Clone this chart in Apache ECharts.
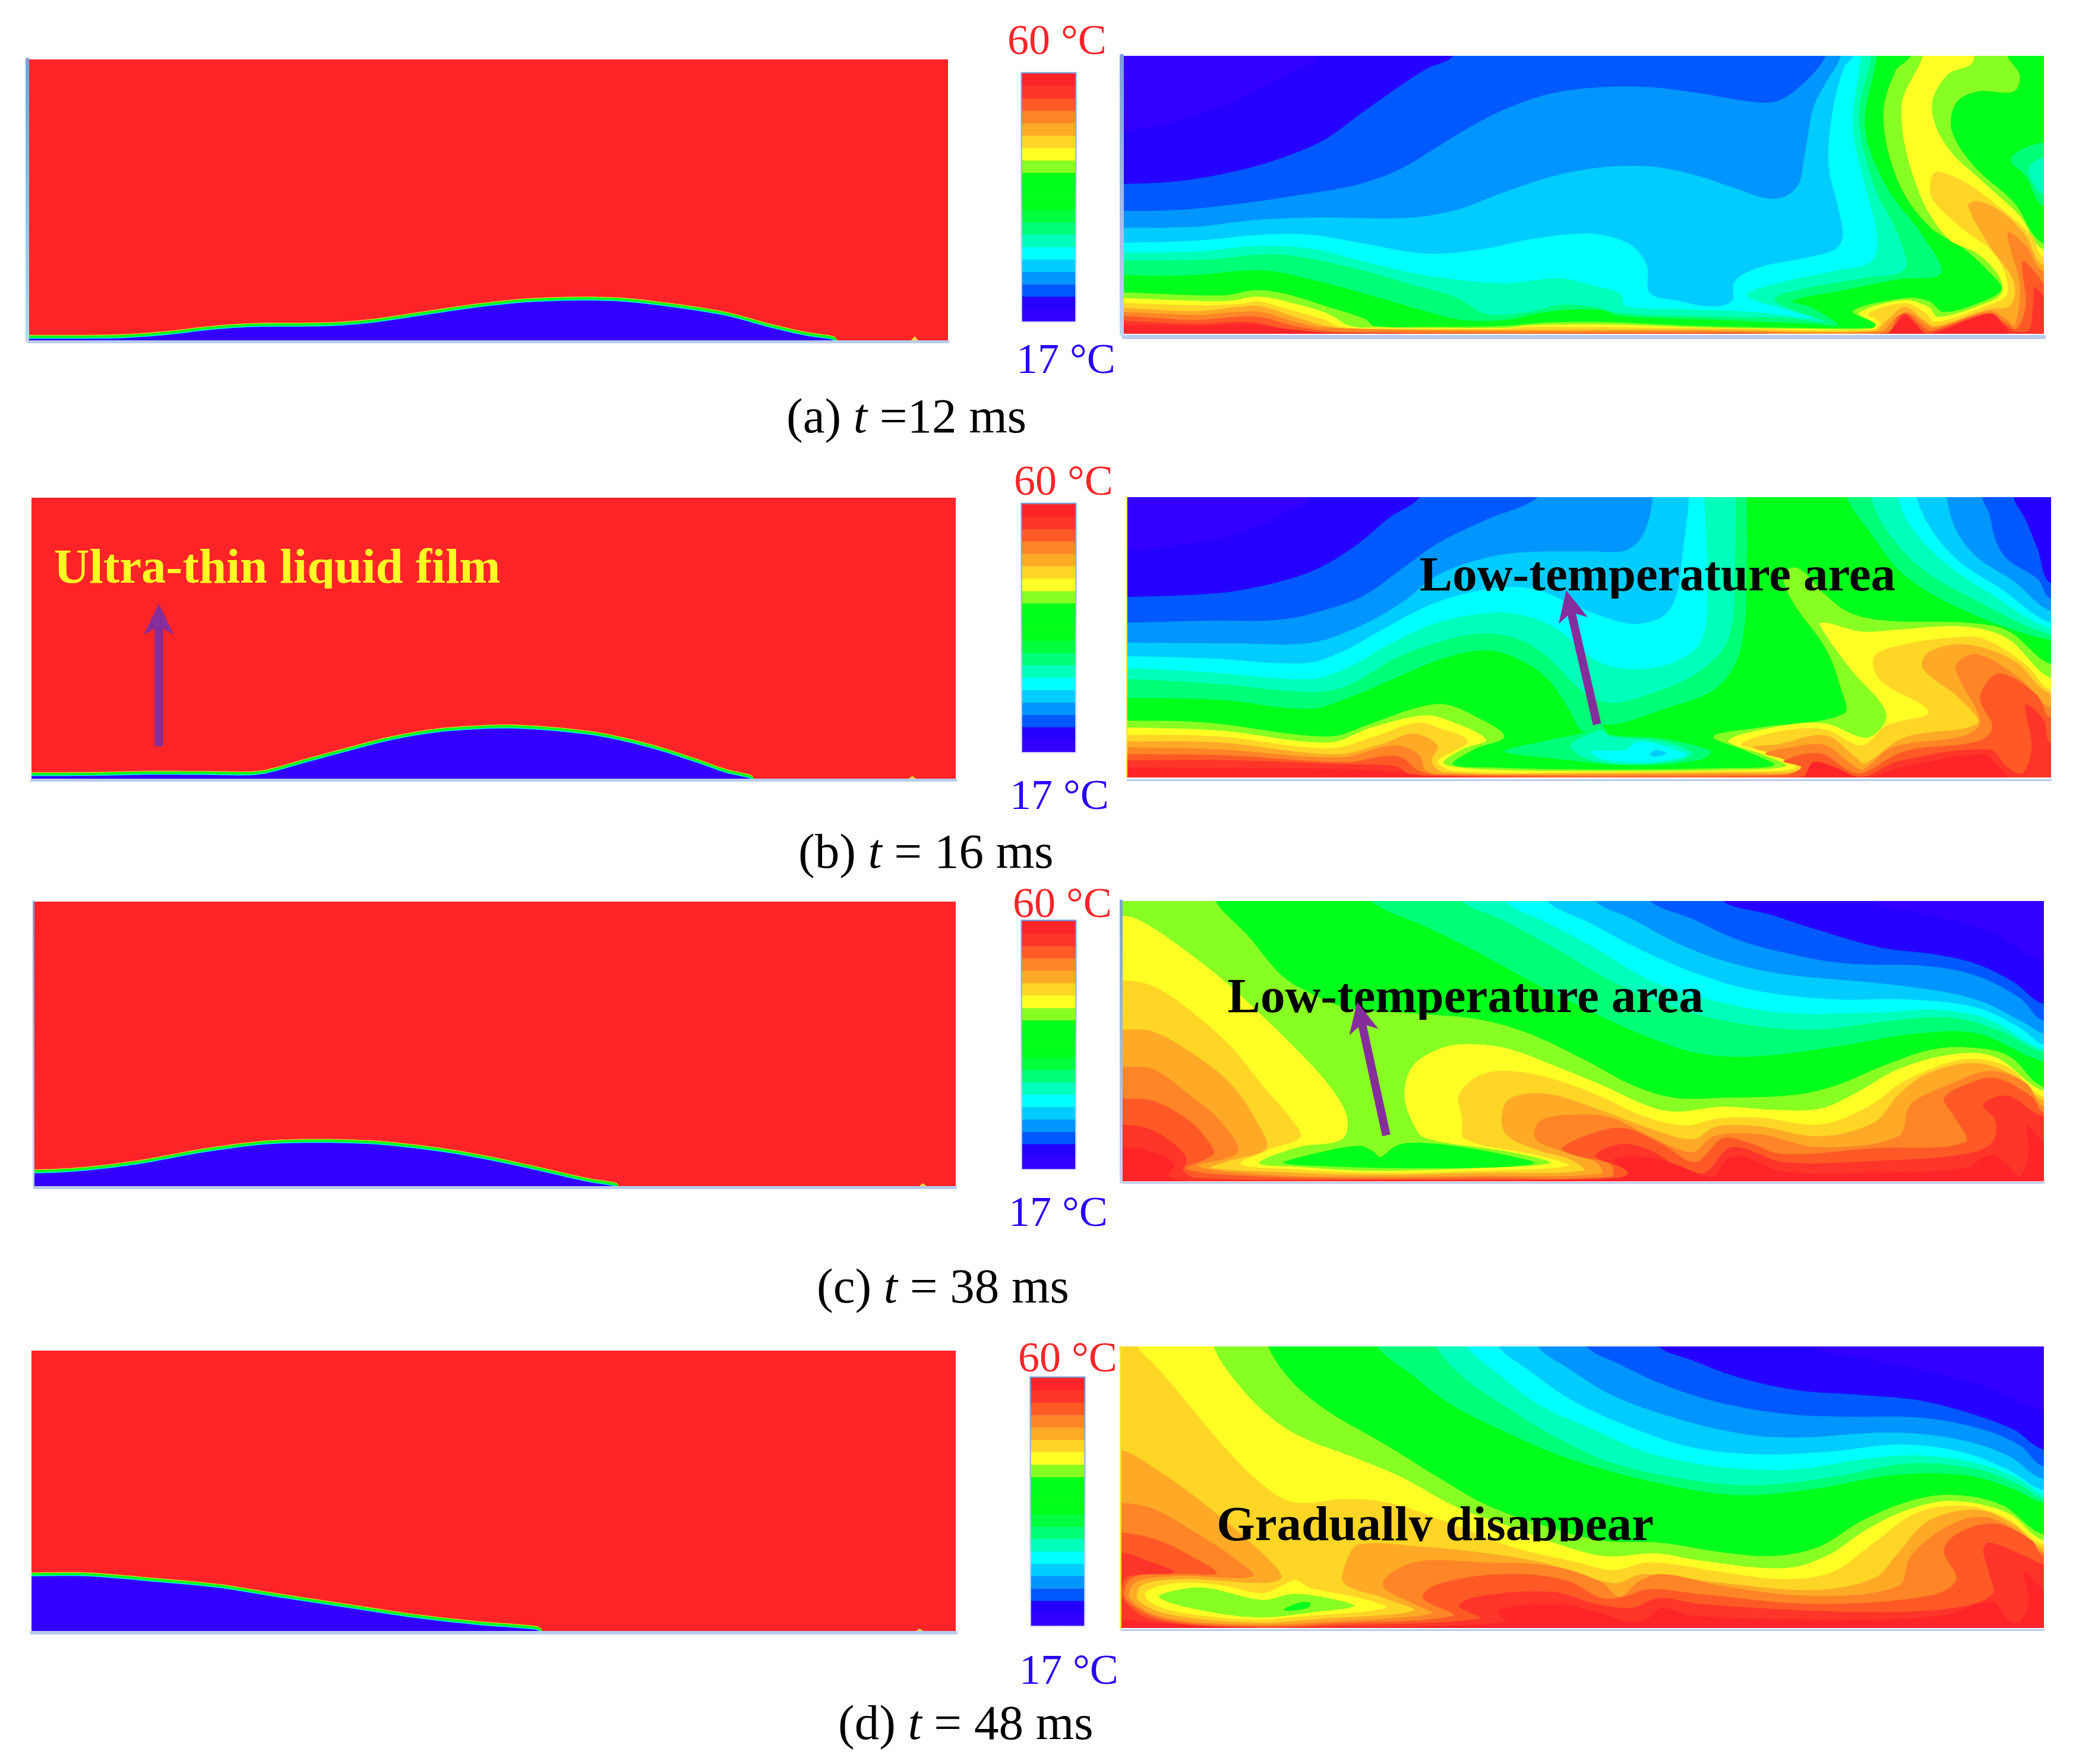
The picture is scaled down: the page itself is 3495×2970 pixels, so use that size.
<!DOCTYPE html>
<html>
<head>
<meta charset="utf-8">
<script src="https://cdn.jsdelivr.net/npm/echarts@6/dist/echarts.min.js"></script>
<style>
  html, body { margin: 0; background: #fff; }
  #chart { width: 3495px; height: 2970px; }
</style>
</head>
<body>
<div id="chart"></div>
<script>
// colour bar, 17 to 60 C
const levelTemps = [18.1, 20.2, 22.4, 24.5, 26.7, 28.8, 31, 33.1, 35.3, 37.4, 39.6, 41.7, 43.9, 46, 48.2, 50.3, 52.5, 54.6, 56.8, 58.9]
const levelColors = ['#3300ff', '#2600ff', '#0059ff', '#0095ff', '#00ccff', '#00ffff', '#00ffbb', '#00ff77', '#00ff3c', '#00ff1a', '#00ff1a', '#00ff1a', '#88ff22', '#ffff26', '#ffd626', '#ffaa26', '#ff8526', '#ff5a26', '#ff3529', '#ff2428']
const contourColors = ['#3300ff', '#2600ff', '#0059ff', '#0095ff', '#00ccff', '#00ffff', '#00ffbb', '#00ff77', '#00ff1a', '#88ff22', '#ffff26', '#ffd626', '#ffaa26', '#ff8526', '#ff5a26', '#ff3529', '#ff2428']

// points outside the plots, used to close a contour region
const TL = [-80, -80], TR = [1640, -80], BR = [1640, 1560], BL = [-80, 1560]

// interface of the drop, left column
const filmA = [[28,378],[170,376],[250,360],[330,332],[400,318],[520,314],[590,298],[680,258],[760,222],[850,193],[930,184],[1010,190],[1100,222],[1180,262],[1250,320],[1310,362],[1350,380],[1360,393]]
const filmB = [[22,312],[130,310],[220,305],[300,306],[370,308],[400,298],[450,255],[520,195],[600,130],[680,88],[780,70],[860,82],[940,112],[1020,170],[1090,240],[1140,295],[1175,320],[1183,332]]
const filmC = [[26,250],[110,236],[200,200],[300,143],[400,103],[490,95],[580,104],[680,140],[770,190],[850,245],[920,295],[955,312],[965,322]]
const filmD = [[22,68],[110,68],[200,90],[320,125],[420,175],[530,228],[640,280],[740,315],[830,338],[842,353]]
const spikeA = [[1484,393],[1490,372],[1496,393]]
const spikeB = [[1434,332],[1440,318],[1446,332]]
const spikeC = [[1451,322],[1457,307],[1463,322]]
const spikeD = [[1446,353],[1452,340],[1458,353]]

// panel (a) contours
const a1 = [[330,-80],[330,42],[290,120],[240,200],[170,300],[90,380],[12,420],[-80,425],BL,BR,TR]
const a2 = [[555,-80],[555,42],[510,110],[460,210],[400,340],[340,470],[260,570],[180,635],[100,675],[12,688],[-80,690],BL,BR,TR]
const a3 = [[-80,825],[12,825],[100,820],[200,790],[300,745],[400,690],[470,610],[530,500],[590,390],[650,300],[720,230],[800,200],[880,200],[960,230],[1050,275],[1090,270],[1130,190],[1170,42],[1170,-80],TR,BR,BL]
const a4 = [[-80,910],[12,910],[130,905],[230,870],[330,858],[480,860],[560,820],[640,730],[720,650],[800,605],[880,600],[950,640],[1020,710],[1070,760],[1100,755],[1125,690],[1135,550],[1150,300],[1170,180],[1195,42],[1195,-80],TR,BR,BL]
const a5 = [[-80,985],[12,985],[130,975],[240,945],[320,945],[400,985],[510,1040],[600,1020],[680,970],[750,942],[800,945],[850,1000],[875,1100],[880,1240],[930,1280],[980,1307],[1015,1280],[1020,1180],[1060,1110],[1130,1065],[1185,1020],[1198,950],[1190,800],[1175,600],[1180,350],[1200,100],[1215,42],[1215,-80],TR,BR,BL]
const a6 = [[-80,1035],[12,1035],[130,1030],[230,1003],[320,1015],[420,1090],[510,1150],[640,1190],[730,1165],[790,1205],[830,1240],[840,1305],[930,1320],[1050,1335],[1150,1365],[1100,1320],[1040,1250],[1090,1190],[1180,1130],[1245,1080],[1255,950],[1235,700],[1215,400],[1228,42],[1228,-80],TR,BR,BL]
const a7 = [[-80,1075],[12,1075],[150,1070],[240,1045],[300,1055],[400,1120],[480,1190],[560,1260],[610,1345],[680,1335],[730,1300],[790,1310],[830,1340],[950,1355],[1100,1365],[1170,1385],[1130,1340],[1085,1270],[1130,1220],[1230,1165],[1300,1120],[1290,950],[1250,700],[1225,350],[1245,42],[1245,-80],TR,BR,BL]
const a8 = [[-80,1150],[12,1150],[120,1150],[240,1125],[320,1170],[430,1260],[520,1340],[570,1375],[640,1375],[720,1330],[800,1325],[830,1355],[1000,1375],[1150,1395],[1190,1400],[1145,1310],[1115,1280],[1200,1225],[1290,1170],[1360,1140],[1330,950],[1270,700],[1235,400],[1255,42],[1255,-80],TR,BR,BL]
const a9 = [[-80,1237],[12,1237],[100,1247],[180,1250],[230,1225],[280,1245],[350,1310],[410,1370],[425,1405],[520,1410],[640,1405],[710,1388],[800,1385],[960,1405],[1130,1415],[1245,1415],[1255,1400],[1215,1330],[1300,1265],[1340,1280],[1365,1335],[1430,1280],[1460,1220],[1445,1150],[1400,1020],[1340,900],[1290,680],[1265,350],[1285,120],[1310,42],[1310,-80],[1470,-80],[1470,42],[1490,140],[1480,222],[1420,222],[1385,280],[1378,420],[1415,600],[1480,780],[1530,990],[1640,1000],BR,BL]
const a10 = [[-80,1265],[12,1265],[100,1275],[180,1280],[235,1258],[290,1290],[350,1345],[385,1405],[430,1413],[640,1415],[680,1402],[810,1398],[950,1412],[1130,1420],[1245,1420],[1252,1395],[1225,1340],[1300,1275],[1340,1310],[1355,1360],[1430,1295],[1460,1240],[1455,1150],[1420,1040],[1370,960],[1320,700],[1295,300],[1330,42],[1330,-80],[1415,-80],[1415,42],[1410,85],[1370,140],[1345,300],[1370,500],[1430,680],[1490,850],[1530,1020],[1640,1030],BR,BL]
const a11 = [[-80,1290],[12,1290],[120,1300],[200,1295],[235,1282],[280,1320],[340,1370],[370,1410],[430,1418],[640,1420],[680,1410],[1000,1418],[1245,1425],[1260,1390],[1240,1345],[1300,1290],[1335,1340],[1350,1385],[1430,1310],[1470,1240],[1450,1050],[1390,900],[1345,760],[1345,650],[1355,625],[1400,680],[1450,790],[1510,950],[1530,1060],[1640,1070],BR,BL]
const a12 = [[-80,1315],[12,1315],[130,1330],[200,1310],[235,1305],[290,1355],[345,1405],[400,1422],[640,1425],[1000,1425],[1250,1430],[1270,1380],[1300,1310],[1330,1370],[1350,1405],[1440,1320],[1475,1300],[1480,1180],[1440,1000],[1405,800],[1420,775],[1460,830],[1500,950],[1530,1100],[1640,1100],BR,BL]
const a13 = [[-80,1335],[12,1335],[130,1350],[200,1335],[240,1335],[290,1380],[340,1412],[620,1430],[1000,1432],[1260,1432],[1285,1365],[1305,1335],[1335,1395],[1350,1415],[1440,1330],[1470,1375],[1482,1405],[1490,1200],[1470,935],[1500,1000],[1530,1130],[1640,1140],BR,BL]
const a14 = [[-80,1355],[12,1355],[130,1375],[230,1358],[300,1410],[380,1437],[1000,1440],[1270,1438],[1290,1355],[1305,1345],[1335,1420],[1345,1430],[1440,1340],[1465,1385],[1485,1420],[1500,1300],[1495,1080],[1520,1150],[1530,1190],[1640,1200],BR,BL]
const a15 = [[-80,1380],[12,1380],[130,1395],[220,1385],[270,1415],[360,1440],[1000,1443],[1270,1442],[1300,1345],[1325,1420],[1340,1442],[1440,1345],[1465,1400],[1480,1432],[1505,1425],[1512,1300],[1515,1210],[1530,1250],[1640,1260],BR,BL]
const a16 = [[-80,1400],[12,1400],[130,1405],[230,1400],[300,1430],[400,1447],[1270,1447],[1285,1400],[1300,1360],[1320,1400],[1335,1447],[1365,1430],[1410,1370],[1445,1345],[1462,1400],[1472,1447],[1472,1560],BL]
const aPocket7 = [[1640,470],[1530,480],[1490,520],[1475,570],[1500,650],[1530,800],[1640,810]]
const aPocket6 = [[1640,540],[1530,555],[1505,610],[1515,700],[1530,740],[1640,750]]
const panelABands = [[1,a1],[2,a2],[3,a3],[4,a4],[5,a5],[6,a6],[7,a7],[8,a8],[7,aPocket7],[6,aPocket6],[9,a9],[10,a10],[11,a11],[12,a12],[13,a13],[14,a14],[15,a15],[16,a16]]

// panel (b) contours
const b1 = [[320,-80],[320,36],[280,110],[210,210],[120,270],[18,305],[-80,310],BL,BR,TR]
const b2 = [[-80,540],[18,540],[170,520],[260,470],[330,400],[395,280],[450,140],[500,36],[500,-80],[1480,-80],[1480,36],[1500,150],[1520,300],[1542,470],[1640,480],BR,BL]
const b3 = [[-80,670],[18,670],[150,660],[270,655],[350,600],[410,530],[470,400],[530,270],[610,150],[695,36],[695,-80],[1428,-80],[1428,36],[1440,120],[1450,250],[1470,350],[1520,450],[1542,550],[1640,560],BR,BL]
const b4 = [[-80,770],[18,770],[200,775],[320,772],[400,690],[470,570],[530,430],[600,350],[670,315],[780,310],[840,305],[870,220],[885,36],[885,-80],[1370,-80],[1370,36],[1385,200],[1420,340],[1480,460],[1542,610],[1640,620],BR,BL]
const b5 = [[-80,840],[18,840],[150,850],[310,875],[370,820],[430,720],[510,590],[580,520],[650,490],[700,510],[760,590],[830,665],[865,675],[905,630],[925,520],[935,300],[945,36],[945,-80],[1320,-80],[1320,36],[1345,200],[1390,360],[1460,500],[1542,670],[1640,680],BR,BL]
const b6 = [[-80,900],[18,900],[150,920],[320,955],[380,900],[450,780],[530,670],[620,620],[680,640],[730,710],[790,860],[850,905],[920,870],[965,760],[975,500],[970,36],[970,-80],[1290,-80],[1290,36],[1310,180],[1360,350],[1440,520],[1542,700],[1640,710],BR,BL]
const b7 = [[-80,955],[18,955],[170,980],[320,1020],[380,990],[460,850],[530,770],[600,725],[660,750],[710,840],[770,1020],[815,1075],[880,1030],[960,920],[1010,750],[1020,400],[1022,36],[1022,-80],[1245,-80],[1245,36],[1270,200],[1330,400],[1420,560],[1542,730],[1640,740],BR,BL]
const b8 = [[-80,1050],[18,1050],[170,1060],[320,1105],[390,1040],[460,950],[540,850],[610,810],[660,850],[710,950],[745,1100],[770,1220],[800,1190],[830,1180],[900,1110],[990,1000],[1030,800],[1040,400],[1040,36],[1040,-80],[1205,-80],[1205,36],[1240,200],[1300,430],[1400,610],[1542,760],[1640,770],BR,BL]
const b9 = [[-80,1165],[18,1165],[150,1175],[350,1245],[420,1180],[490,1105],[540,1082],[590,1140],[640,1245],[590,1310],[555,1385],[620,1402],[800,1412],[1000,1405],[1085,1390],[1040,1320],[985,1245],[1060,1200],[1200,1130],[1195,1000],[1170,800],[1115,560],[1100,420],[1125,395],[1170,530],[1210,620],[1270,660],[1400,670],[1470,710],[1542,880],[1640,890],BR,BL]
const b10 = [[-80,1200],[18,1200],[170,1215],[350,1275],[420,1200],[500,1140],[535,1150],[610,1260],[570,1310],[540,1380],[600,1410],[800,1420],[1000,1415],[1105,1395],[1070,1340],[1010,1265],[1100,1190],[1170,1180],[1240,1250],[1270,1130],[1210,900],[1160,680],[1170,670],[1230,715],[1290,705],[1400,690],[1470,750],[1542,950],[1640,960],BR,BL]
const b11 = [[-80,1235],[18,1235],[170,1245],[350,1305],[420,1250],[495,1175],[530,1200],[580,1270],[530,1370],[560,1420],[800,1425],[1000,1420],[1120,1405],[1085,1330],[1030,1285],[1100,1215],[1170,1210],[1230,1290],[1270,1190],[1340,1120],[1260,960],[1250,840],[1300,780],[1380,745],[1430,750],[1500,880],[1542,1010],[1640,1020],BR,BL]
const b12 = [[-80,1270],[18,1270],[170,1275],[360,1335],[440,1280],[490,1230],[530,1290],[520,1370],[540,1425],[780,1432],[850,1430],[1000,1428],[1135,1415],[1100,1350],[1050,1300],[1090,1285],[1170,1240],[1220,1350],[1235,1380],[1300,1250],[1420,1180],[1390,1050],[1330,900],[1340,820],[1400,780],[1480,860],[1542,1030],[1640,1040],BR,BL]
const b13 = [[-80,1300],[18,1300],[170,1310],[370,1350],[460,1290],[500,1340],[510,1415],[540,1435],[1000,1435],[1145,1425],[1100,1360],[1070,1330],[1120,1295],[1170,1290],[1215,1390],[1232,1410],[1280,1300],[1400,1240],[1425,1170],[1390,950],[1385,880],[1420,830],[1490,950],[1542,1100],[1640,1110],BR,BL]
const b14 = [[-80,1335],[18,1335],[180,1340],[380,1375],[440,1345],[470,1350],[500,1420],[540,1440],[1100,1440],[1130,1400],[1100,1370],[1160,1330],[1210,1420],[1232,1430],[1300,1320],[1420,1270],[1445,1200],[1425,1050],[1450,930],[1480,950],[1520,1040],[1542,1150],[1640,1160],BR,BL]
const b15 = [[-80,1365],[18,1365],[180,1365],[380,1385],[460,1395],[490,1440],[1130,1448],[1150,1375],[1170,1390],[1230,1448],[1290,1370],[1440,1310],[1470,1400],[1495,1430],[1510,1300],[1500,1085],[1530,1160],[1542,1280],[1640,1290],BR,BL]
const b16 = [[-80,1400],[18,1400],[180,1405],[380,1410],[460,1425],[520,1445],[800,1452],[1130,1452],[1150,1375],[1185,1400],[1230,1452],[1310,1390],[1430,1335],[1450,1380],[1470,1452],[1470,1560],BL]
const bPocket7 = [[800,1190],[815,1235],[900,1255],[980,1320],[960,1365],[850,1390],[720,1355],[640,1320],[710,1265],[780,1220]]
const bPocket6 = [[800,1215],[815,1245],[900,1270],[950,1330],[920,1370],[830,1385],[770,1350],[750,1290],[775,1240]]
const bPocket5 = [[860,1270],[900,1290],[940,1340],[870,1375],[800,1360],[785,1320],[840,1310]]
const bPocket4 = [[890,1315],[907,1330],[890,1348],[880,1335]]
const panelBBands = [[1,b1],[2,b2],[3,b3],[4,b4],[5,b5],[6,b6],[7,b7],[8,b8],[9,b9],[10,b10],[11,b11],[12,b12],[13,b13],[14,b14],[15,b15],[16,b16],[7,bPocket7],[6,bPocket6],[5,bPocket5],[4,bPocket4]]

// panel (c) contours
const c1 = [[1245,-80],[1245,20],[1340,90],[1440,170],[1530,320],[1640,330],BR,BL,TL]
const c2 = [[1000,-80],[1000,20],[1080,90],[1150,160],[1260,255],[1350,290],[1420,340],[1480,430],[1530,540],[1640,550],BR,BL,TL]
const c3 = [[880,-80],[880,20],[950,110],[1020,210],[1100,280],[1200,335],[1340,350],[1420,400],[1490,510],[1530,625],[1640,630],BR,BL,TL]
const c4 = [[790,-80],[790,20],[850,110],[930,240],[1010,330],[1100,390],[1300,450],[1420,520],[1500,640],[1530,690],[1640,700],BR,BL,TL]
const c5 = [[710,-80],[710,20],[780,130],[860,260],[960,390],[1050,470],[1170,515],[1320,520],[1420,560],[1490,660],[1530,745],[1640,750],BR,BL,TL]
const c6 = [[640,-80],[640,20],[710,130],[790,260],[880,420],[980,520],[1100,585],[1250,585],[1350,570],[1440,620],[1530,770],[1640,780],BR,BL,TL]
const c7 = [[570,-80],[570,20],[640,120],[730,270],[820,430],[920,560],[1030,640],[1150,670],[1280,625],[1380,610],[1460,680],[1530,785],[1640,790],BR,BL,TL]
const c8 = [[420,-80],[420,20],[510,150],[590,270],[680,420],[770,560],[870,700],[960,790],[1060,805],[1200,750],[1320,690],[1420,690],[1530,830],[1640,840],BR,BL,TL]
const c9 = [[163,-80],[163,20],[215,190],[270,390],[310,470],[380,560],[500,590],[600,620],[680,690],[770,820],[850,950],[920,1015],[1000,1015],[1120,1000],[1190,950],[1260,860],[1340,775],[1400,760],[1470,800],[1530,960],[1640,970],BR,BL,TL]
const c10 = [[-80,95],[10,95],[40,120],[100,240],[180,430],[240,600],[300,780],[350,950],[380,1110],[372,1225],[300,1265],[235,1345],[300,1365],[430,1385],[600,1370],[715,1345],[650,1290],[510,1220],[490,1150],[475,1000],[490,850],[540,760],[590,745],[650,770],[720,850],[800,950],[880,1060],[925,1085],[1000,1060],[1080,1075],[1160,1070],[1220,990],[1290,870],[1380,795],[1450,810],[1530,980],[1640,990],BR,BL]
const c11 = [[-80,420],[10,420],[60,450],[120,570],[190,760],[240,950],[290,1130],[303,1215],[250,1280],[205,1350],[300,1378],[430,1395],[600,1385],[745,1360],[700,1310],[575,1225],[570,1120],[565,1000],[600,900],[650,880],[720,920],[800,1010],[870,1110],[940,1155],[990,1120],[1060,1115],[1160,1150],[1240,1060],[1300,930],[1400,820],[1470,860],[1530,1010],[1640,1020],BR,BL]
const c12 = [[-80,670],[10,670],[60,680],[130,800],[190,950],[230,1130],[247,1270],[180,1340],[155,1370],[300,1395],[430,1405],[600,1395],[770,1385],[750,1330],[690,1275],[640,1190],[640,1050],[665,1000],[720,1000],[800,1080],[880,1170],[950,1225],[990,1160],[1060,1160],[1160,1210],[1250,1140],[1290,1000],[1340,890],[1420,840],[1490,920],[1530,1030],[1640,1040],BR,BL]
const c13 = [[-80,860],[10,860],[60,870],[120,1000],[170,1130],[200,1290],[135,1360],[250,1405],[430,1415],[600,1410],[800,1400],[790,1340],[730,1280],[690,1220],[700,1130],[760,1100],[820,1120],[880,1210],[950,1290],[985,1210],[1060,1200],[1160,1265],[1290,1210],[1310,1050],[1380,940],[1440,880],[1500,940],[1530,1060],[1640,1070],BR,BL]
const c14 = [[-80,1020],[10,1020],[60,1030],[120,1130],[150,1230],[160,1300],[115,1375],[250,1415],[430,1425],[600,1420],[815,1415],[815,1350],[760,1310],[735,1270],[790,1190],[840,1170],[900,1250],[955,1340],[1000,1220],[1040,1240],[1100,1300],[1250,1270],[1400,1240],[1380,1100],[1365,1020],[1400,950],[1450,915],[1510,1010],[1530,1090],[1640,1100],BR,BL]
const c15 = [[-80,1150],[10,1150],[60,1180],[110,1290],[115,1340],[110,1380],[130,1420],[430,1430],[830,1420],[845,1385],[790,1310],[830,1250],[880,1280],[930,1370],[970,1395],[1015,1265],[1100,1340],[1250,1335],[1400,1300],[1445,1240],[1450,1130],[1430,1050],[1470,1005],[1530,1110],[1640,1120],BR,BL]
const c16 = [[-80,1265],[10,1265],[60,1290],[95,1350],[85,1410],[120,1438],[420,1435],[800,1430],[845,1400],[820,1330],[860,1315],[910,1340],[970,1410],[985,1415],[1010,1320],[1040,1320],[1100,1390],[1250,1395],[1400,1370],[1440,1305],[1465,1340],[1490,1412],[1505,1300],[1503,1160],[1530,1230],[1640,1240],BR,BL]
const cPocket8 = [[275,1345],[310,1310],[400,1258],[425,1290],[435,1315],[460,1260],[490,1243],[560,1260],[650,1310],[690,1345],[640,1365],[500,1372],[350,1362]]
const panelCBands = [[1,c1],[2,c2],[3,c3],[4,c4],[5,c5],[6,c6],[7,c7],[8,c8],[9,c9],[10,c10],[11,c11],[12,c12],[13,c13],[14,c14],[15,c15],[16,c16],[8,cPocket8]]

// panel (d) contours
const d1 = [[1145,-80],[1145,20],[1240,80],[1350,150],[1450,240],[1530,345],[1640,350],BR,BL,TL]
const d2 = [[895,-80],[895,20],[950,90],[1020,170],[1120,240],[1230,265],[1320,290],[1400,350],[1480,440],[1530,540],[1640,550],BR,BL,TL]
const d3 = [[775,-80],[775,20],[830,110],[900,210],[990,300],[1100,360],[1200,375],[1330,380],[1430,440],[1490,520],[1530,625],[1640,630],BR,BL,TL]
const d4 = [[695,-80],[695,20],[745,130],[820,270],[920,380],[1030,460],[1120,480],[1280,455],[1390,490],[1470,570],[1530,690],[1640,700],BR,BL,TL]
const d5 = [[630,-80],[630,20],[680,140],[750,290],[850,430],[950,530],[1060,565],[1180,550],[1290,515],[1390,550],[1470,640],[1530,745],[1640,750],BR,BL,TL]
const d6 = [[578,-80],[578,20],[630,160],[700,320],[780,430],[880,560],[1000,630],[1120,640],[1230,590],[1320,570],[1420,610],[1490,690],[1530,770],[1640,780],BR,BL,TL]
const d7 = [[528,-80],[528,20],[570,170],[640,320],[720,470],[820,610],[960,700],[1060,720],[1180,680],[1310,610],[1420,640],[1490,720],[1530,790],[1640,800],BR,BL,TL]
const d8 = [[430,-80],[430,20],[490,170],[550,310],[640,450],[740,580],[880,700],[1020,770],[1150,740],[1280,670],[1400,670],[1480,740],[1530,810],[1640,820],BR,BL,TL]
const d9 = [[250,-80],[250,20],[290,200],[350,350],[440,510],[530,680],[610,820],[700,920],[800,1000],[900,1012],[1000,1060],[1085,1078],[1160,1030],[1230,900],[1310,800],[1380,770],[1460,820],[1530,970],[1640,980],BR,BL,TL]
const d10 = [[160,-80],[160,20],[190,170],[240,340],[300,470],[400,590],[470,680],[560,830],[640,920],[750,1040],[810,1080],[890,1065],[960,1100],[1100,1140],[1170,1080],[1240,940],[1310,840],[1380,800],[1470,860],[1530,1000],[1640,1010],BR,BL,TL]
const d11 = [[35,-80],[35,20],[65,120],[110,280],[170,500],[230,690],[290,805],[380,790],[450,810],[540,900],[650,1030],[760,1110],[820,1150],[880,1110],[1000,1160],[1100,1195],[1180,1160],[1250,1010],[1320,860],[1400,825],[1470,890],[1530,1020],[1640,1030],BR,BL,TL]
const d12 = [[-80,545],[8,545],[60,630],[130,780],[210,980],[262,1130],[272,1190],[240,1215],[110,1195],[42,1225],[35,1300],[90,1375],[230,1415],[340,1395],[490,1355],[440,1290],[375,1215],[380,1100],[400,1020],[500,1030],[600,1060],[700,1110],[820,1215],[870,1170],[1000,1215],[1150,1250],[1250,1190],[1290,1060],[1340,900],[1420,845],[1480,920],[1530,1040],[1640,1050],BR,BL]
const d13 = [[-80,810],[8,810],[60,840],[130,960],[190,1080],[225,1180],[100,1180],[32,1210],[22,1295],[80,1390],[230,1425],[350,1410],[520,1370],[490,1320],[440,1235],[450,1170],[500,1105],[600,1110],[720,1130],[800,1210],[830,1285],[860,1210],[900,1170],[1000,1230],[1150,1280],[1290,1230],[1310,1080],[1370,930],[1430,880],[1490,960],[1530,1060],[1640,1070],BR,BL]
const d14 = [[-80,960],[8,960],[70,1000],[130,1090],[165,1165],[100,1170],[25,1190],[15,1295],[80,1400],[230,1432],[350,1420],[555,1380],[505,1290],[530,1220],[640,1170],[740,1200],[800,1290],[835,1285],[880,1245],[960,1270],[1150,1320],[1340,1280],[1385,1200],[1365,1050],[1390,960],[1450,915],[1510,1000],[1530,1080],[1640,1090],BR,BL]
const d15 = [[-80,1060],[8,1060],[50,1100],[95,1160],[30,1175],[12,1200],[12,1300],[60,1400],[230,1440],[350,1430],[600,1395],[565,1330],[600,1280],[720,1260],[790,1320],[850,1340],[895,1290],[960,1320],[1150,1355],[1300,1360],[1400,1330],[1445,1270],[1440,1170],[1430,1050],[1440,1010],[1500,1080],[1530,1120],[1640,1120],BR,BL]
const d16 = [[-80,1400],[8,1400],[60,1415],[230,1442],[640,1415],[630,1350],[740,1325],[800,1370],[855,1415],[880,1385],[900,1340],[950,1380],[1150,1400],[1350,1385],[1445,1310],[1470,1400],[1490,1412],[1505,1300],[1498,1160],[1530,1240],[1640,1250],BR,BL]
const dPocket10 = [[48,1260],[100,1215],[170,1225],[240,1265],[275,1225],[295,1200],[320,1240],[400,1290],[445,1340],[300,1385],[220,1400],[100,1360],[55,1310]]
const dPocket9 = [[70,1285],[100,1250],[150,1240],[240,1300],[290,1270],[340,1285],[392,1330],[330,1360],[230,1388],[120,1340]]
const dPocket8 = [[275,1350],[300,1315],[320,1315],[315,1340],[285,1355]]
const panelDBands = [[1,d1],[2,d2],[3,d3],[4,d4],[5,d5],[6,d6],[7,d7],[8,d8],[9,d9],[10,d10],[11,d11],[12,d12],[13,d13],[14,d14],[15,d15],[16,d16],[10,dPocket10],[9,dPocket9],[8,dPocket8]]

const serif = '"Liberation Serif", "Times New Roman", serif'
const purple = '#862d9c'
const wallBlue = '#b8cbec'
const edgeBlue = new echarts.graphic.LinearGradient(0, 0, 0, 1, [{ offset: 0, color: '#7d9fdd' }, { offset: 1, color: '#c3d3f0' }])
const barEdge = new echarts.graphic.LinearGradient(0, 0, 0, 1, [{ offset: 0, color: '#6f9bd8' }, { offset: 1, color: '#dfe8f5' }])

// drop panels: grid box, x range, y range, interface, spike, wall and edge strip widths
const leftPanels = [
  { box: [49, 100, 1547, 473], x: [28, 1545], y: [-1032, 393], film: filmA, spike: spikeA, wall: 5, edge: 6 },
  { box: [53, 838, 1556, 473], x: [22, 1510], y: [-1093, 332], film: filmB, spike: spikeB, wall: 5, edge: 0 },
  { box: [58, 1518, 1551, 479], x: [26, 1510], y: [-1121, 322], film: filmC, spike: spikeC, wall: 5, edge: 3 },
  { box: [53, 2274, 1556, 472], x: [22, 1510], y: [-1072, 353], film: filmD, spike: spikeD, wall: 6, edge: 0 }
]
const rightPanels = [
  { box: [1892, 94, 1549, 468], x: [12, 1530], y: [42, 1445], bands: panelABands, edgeColor: edgeBlue, wall: 7, wallGap: 2, edge: 7 },
  { box: [1898, 837, 1555, 472], x: [18, 1542], y: [36, 1452], bands: panelBBands, edgeColor: '#f2e83a', wall: 3, wallGap: 3, edge: 2 },
  { box: [1890, 1517, 1551, 472], x: [10, 1530], y: [20, 1438], bands: panelCBands, edgeColor: edgeBlue, wall: 3, wallGap: 1, edge: 5 },
  { box: [1888, 2267, 1553, 474], x: [8, 1530], y: [20, 1442], bands: panelDBands, edgeColor: '#f2e83a', wall: 3, wallGap: 2, edge: 3 }
]
const barBoxes = [[1721, 124, 89, 417], [1721, 849, 89, 417], [1721, 1551, 89, 417], [1736, 2320, 89, 417]]

// outer halo to core of the interface, shift in pixels
const filmLayers = [
  { dy: -4.5, color: '#ff8a30' },
  { dy: -3.5, color: '#e0f020' },
  { dy: -3, color: '#00ff1a' },
  { dy: 1, color: '#00e6ff' },
  { dy: 2.5, color: '#3300ff' }
]

// [grid, text, x, y, colour, kept part below the baseline]
const notes = [
  [1, 'Ultra-thin liquid film', 58, -654, '#ffff26', 7],
  [5, 'Low-temperature area', 500, 515, '#000', 11],
  [6, 'Low-temperature area', 183, 588, '#000', 11],
  [7, 'Gradually disappear', 165, 1005, '#000', 0]
]
// [grid, tail, tip]
const arrows = [
  [1, [227, 168], [227, -555]],
  [5, [793, 1183], [742, 507]],
  [6, [445, 1205], [397, 530]]
]
// [text, left, top]
const captions = [
  ['(a) {i|t} =12 ms', 1324, 664],
  ['(b) {i|t} = 16 ms', 1344, 1397],
  ['(c) {i|t} = 38 ms', 1375, 2129],
  ['(d) {i|t} = 48 ms', 1411, 2864]
]
const hotLabels = [[1696, 36], [1707, 778], [1705, 1489], [1714, 2254]]
const coldLabels = [[1711, 573], [1700, 1307], [1698, 2009], [1716, 2780]]

const grids = [], xAxes = [], yAxes = [], series = []

function addAxes (panel, edgeColor, wallGap) {
  const i = grids.length
  grids.push({ left: panel.box[0], top: panel.box[1], width: panel.box[2], height: panel.box[3], containLabel: false })
  const hide = { axisTick: { show: false }, axisLabel: { show: false }, splitLine: { show: false } }
  xAxes.push({ gridIndex: i, type: 'value', min: panel.x[0], max: panel.x[1], z: 4, offset: wallGap + panel.wall / 2, ...hide,
    axisLine: { show: true, onZero: false, lineStyle: { color: wallBlue, width: panel.wall } } })
  yAxes.push({ gridIndex: i, type: 'value', min: panel.y[0], max: panel.y[1], inverse: true, z: 4, offset: panel.edge / 2, ...hide,
    axisLine: { show: panel.edge > 0, onZero: false, lineStyle: { color: edgeColor, width: panel.edge } } })
  return i
}

function polygonSeries (gridIndex, items) {
  series.push({
    type: 'custom',
    xAxisIndex: gridIndex,
    yAxisIndex: gridIndex,
    coordinateSystem: 'cartesian2d',
    clip: true,
    silent: true,
    z: 3,
    data: items.map((it, i) => [i]),
    renderItem: (params, api) => {
      const it = items[params.dataIndex]
      return {
        type: 'polygon',
        y: it.dy || 0,
        shape: { points: it.points.map(p => api.coord(p)), smooth: it.smooth },
        style: { fill: it.color }
      }
    }
  })
}

leftPanels.forEach(p => {
  const i = addAxes(p, edgeBlue, 0)
  grids[i].show = true
  grids[i].backgroundColor = '#ff2428'
  grids[i].borderWidth = 0
  const first = p.film[0]
  const last = p.film[p.film.length - 1]
  const wall = p.y[1]
  const outline = [[first[0] - 200, first[1]], ...p.film, [last[0] + 10, wall + 100], [first[0] - 200, wall + 100]]
  const items = filmLayers.map(l => ({ points: outline, color: l.color, dy: l.dy, smooth: 0.3 }))
  items.push({ points: p.spike, color: '#ffd040', smooth: 0 })
  polygonSeries(i, items)
})

rightPanels.forEach(p => {
  const i = addAxes(p, p.edgeColor, p.wallGap)
  grids[i].show = true
  grids[i].backgroundColor = contourColors[0]
  grids[i].borderWidth = 0
  polygonSeries(i, p.bands.map(b => ({ points: b[1], color: contourColors[b[0]], smooth: 0.35 })))
})

const barCell = [['T'], levelTemps.map(String)]
barBoxes.forEach(box => {
  const i = grids.length
  grids.push({ left: box[0], top: box[1], width: box[2], height: box[3], show: true, borderColor: barEdge, borderWidth: 5, backgroundColor: 'transparent' })
  xAxes.push({ gridIndex: i, type: 'category', data: barCell[0], show: false })
  yAxes.push({ gridIndex: i, type: 'category', data: barCell[1], show: false })
  series.push({
    type: 'heatmap',
    xAxisIndex: i,
    yAxisIndex: i,
    silent: true,
    z: 1,
    data: levelTemps.map((t, k) => [0, k, t])
  })
})

notes.forEach(n => {
  const gi = n[0]
  series.push({
    type: 'custom',
    xAxisIndex: gi,
    yAxisIndex: gi,
    silent: true,
    z: 6,
    data: [[n[2], n[3]]],
    renderItem: (params, api) => {
      const pt = api.coord([n[2], n[3]])
      return {
        type: 'text',
        x: pt[0],
        y: pt[1] - 24,
        style: { text: n[1], font: 'bold 83px ' + serif, fill: n[4], align: 'left', verticalAlign: 'middle' },
        clipPath: { type: 'rect', shape: { x: -10, y: -100, width: 1100, height: 124 + n[5] } }
      }
    }
  })
})

arrows.forEach(a => {
  const gi = a[0]
  series.push({
    type: 'custom',
    xAxisIndex: gi,
    yAxisIndex: gi,
    silent: true,
    z: 7,
    data: [a[2]],
    renderItem: (params, api) => {
      const tail = api.coord(a[1])
      const tip = api.coord(a[2])
      const len = Math.hypot(tip[0] - tail[0], tip[1] - tail[1])
      const ux = (tip[0] - tail[0]) / len
      const uy = (tip[1] - tail[1]) / len
      const at = (back, side) => [tip[0] - ux * back - uy * side, tip[1] - uy * back + ux * side]
      return {
        type: 'group',
        children: [
          { type: 'line', shape: { x1: tail[0], y1: tail[1], x2: at(36, 0)[0], y2: at(36, 0)[1] }, style: { stroke: purple, lineWidth: 14 } },
          { type: 'polygon', shape: { points: [tip, at(52, 25), at(38, 0), at(52, -25)] }, style: { fill: purple } }
        ]
      }
    }
  })
})

const titles = []
captions.forEach(c => {
  titles.push({
    text: c[0], left: c[1], top: c[2], padding: 0,
    textStyle: { fontFamily: serif, fontSize: 83, lineHeight: 84, fontWeight: 'normal', color: '#000',
      rich: { i: { fontFamily: serif, fontSize: 83, lineHeight: 84, fontStyle: 'italic', color: '#000' } } }
  })
})
hotLabels.forEach(l => {
  titles.push({ text: '60 °C', left: l[0], top: l[1], padding: 0, textStyle: { fontFamily: serif, fontSize: 72, lineHeight: 72, fontWeight: 'normal', color: '#ff2428' } })
})
coldLabels.forEach(l => {
  titles.push({ text: '17 °C', left: l[0], top: l[1], padding: 0, textStyle: { fontFamily: serif, fontSize: 72, lineHeight: 72, fontWeight: 'normal', color: '#2600ff' } })
})

const chart = echarts.init(document.getElementById('chart'))
chart.setOption({
  animation: false,
  backgroundColor: '#fff',
  title: titles,
  grid: grids,
  xAxis: xAxes,
  yAxis: yAxes,
  visualMap: {
    type: 'piecewise',
    show: false,
    seriesIndex: series.map((s, i) => s.type === 'heatmap' ? i : -1).filter(i => i >= 0),
    dimension: 2,
    pieces: levelTemps.map((t, k) => ({ min: t - 1, max: t + 1, color: levelColors[k] }))
  },
  series
})
</script>
</body>
</html>
